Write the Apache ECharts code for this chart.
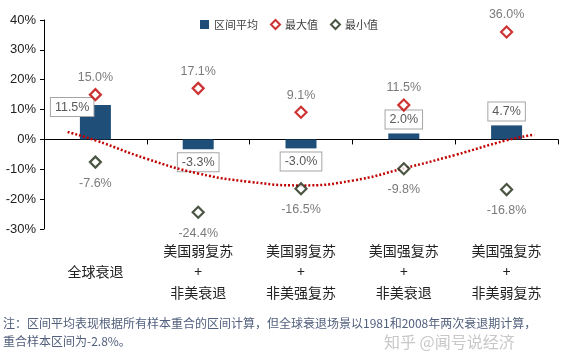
<!DOCTYPE html>
<html><head><meta charset="utf-8">
<script src="https://cdn.jsdelivr.net/npm/echarts@6/dist/echarts.min.js"></script>
<style>html,body{margin:0;padding:0;background:#fff;}#c{width:567px;height:363px;}</style>
</head><body><div id="c"></div>
<script>
var categories = ['\n全球衰退', '美国弱复苏\n+\n非美衰退', '美国弱复苏\n+\n非美强复苏', '美国强复苏\n+\n非美衰退', '美国强复苏\n+\n非美弱复苏'];
var avgValues = [11.5, -3.3, -3.0, 2.0, 4.7];
var maxValues = [15.0, 17.1, 9.1, 11.5, 36.0];
var minValues = [-7.6, -24.4, -16.5, -9.8, -16.8];
var trendX = [-0.27, 0, 0.5, 1, 1.5, 2, 2.5, 3, 3.5, 4, 4.27];
var trendY = [2.5, -0.3, -6.5, -11.4, -14.2, -15.4, -13.8, -9.7, -5.2, -0.3, 1.6];
var yTicks = [-30, -20, -10, 0, 10, 20, 30, 40];
var legendNames = ['区间平均', '最大值', '最小值'];
var noteLine1 = '注：区间平均表现根据所有样本重合的区间计算，但全球衰退场景以1981和2008年两次衰退期计算，';
var noteLine2 = '重合样本区间为-2.8%。';
var watermark = '知乎 @闻号说经济';

var chart = echarts.init(document.getElementById('c'));
var gray = '#595959';
var boxLabel = {
  show: true, color: gray, fontSize: 12.5, fontFamily: 'Liberation Sans, Arial',
  backgroundColor: '#fff', borderColor: '#a6a6a6', borderWidth: 1, padding: [3, 4, 2, 4],
  formatter: function (p) { return p.value.toFixed(1) + '%'; }
};
var avgData = avgValues.map(function (v, i) {
  var lab;
  if (i === 0) lab = { position: 'insideTopLeft', offset: [-34, -12] };
  else if (v < 0) lab = { position: 'bottom', distance: 4 };
  else lab = { position: 'top', distance: 5 };
  return { value: v, label: lab };
});
var serif = 'Noto Sans CJK SC';
chart.setOption({
  animation: false,
  grid: { left: 44, right: 9, top: 20, bottom: 134, containLabel: false },
  legend: {
    top: 14, left: 195, itemGap: 12, itemWidth: 9, itemHeight: 9,
    textStyle: { fontSize: 11, color: '#404040', fontFamily: serif },
    data: [
      { name: legendNames[0], icon: 'rect' },
      { name: legendNames[1], icon: 'diamond' },
      { name: legendNames[2], icon: 'diamond' }
    ]
  },
  xAxis: [
    { type: 'category', data: categories, axisLine: { onZero: true, lineStyle: { color: '#000', width: 1 } },
      axisTick: { show: true, length: 5, lineStyle: { color: '#000' } }, axisLabel: { show: false }, splitLine: { show: false } },
    { type: 'category', data: categories, position: 'bottom', axisLine: { show: false, onZero: false }, axisTick: { show: false },
      axisLabel: { show: true, margin: 11, fontSize: 14, lineHeight: 21, color: '#222', fontFamily: serif, interval: 0 } },
    { type: 'value', min: -0.5, max: 4.5, show: false, axisLine: { onZero: false } }
  ],
  yAxis: {
    type: 'value', min: -30, max: 40, interval: 10,
    axisLine: { show: true, onZero: false, lineStyle: { color: '#000' } },
    axisTick: { show: true, length: 4, lineStyle: { color: '#000' } },
    splitLine: { show: false },
    axisLabel: { fontSize: 13, color: '#222', margin: 8, fontFamily: 'Liberation Sans, Arial',
      formatter: function (v) { return v + '%'; } }
  },
  series: [
    { name: legendNames[0], type: 'bar', xAxisIndex: 0, data: avgData, barWidth: 31,
      itemStyle: { color: '#1f4e79' }, label: boxLabel, z: 3 },
    { name: legendNames[1], type: 'scatter', xAxisIndex: 0, data: maxValues, symbol: 'diamond', symbolSize: 11,
      itemStyle: { color: '#fff', borderColor: '#c00000', borderWidth: 2.2 },
      label: { show: true, position: 'top', distance: 4, color: gray, fontSize: 12.5, fontFamily: 'Liberation Sans, Arial',
        formatter: function (p) { return p.value.toFixed(1) + '%'; } }, z: 5 },
    { name: legendNames[2], type: 'scatter', xAxisIndex: 0, data: minValues, symbol: 'diamond', symbolSize: 11,
      itemStyle: { color: '#fff', borderColor: '#1e2a14', borderWidth: 2.2 },
      label: { show: true, position: 'bottom', distance: 8, color: gray, fontSize: 12.5, fontFamily: 'Liberation Sans, Arial',
        formatter: function (p) { return p.value.toFixed(1) + '%'; } }, z: 5 },
    { name: 'trend', type: 'line', xAxisIndex: 2, smooth: true, symbol: 'none',
      data: trendX.map(function (x, i) { return [x, trendY[i]]; }),
      lineStyle: { color: '#c00000', width: 2.5, type: [2, 2] }, z: 4, silent: true }
  ],
  graphic: [
    { type: 'text', left: 3, top: 317, style: { text: noteLine1, fontSize: 12, fill: '#52607e', fontFamily: 'Noto Sans CJK SC' } },
    { type: 'text', left: 3, top: 335, style: { text: noteLine2, fontSize: 12, fill: '#52607e', fontFamily: 'Noto Sans CJK SC' } },
    { type: 'text', left: 384, top: 334, style: { text: watermark, fontSize: 16, fill: '#c8c8c8', fontFamily: 'Noto Sans CJK SC' } }
  ]
});
</script></body></html>
